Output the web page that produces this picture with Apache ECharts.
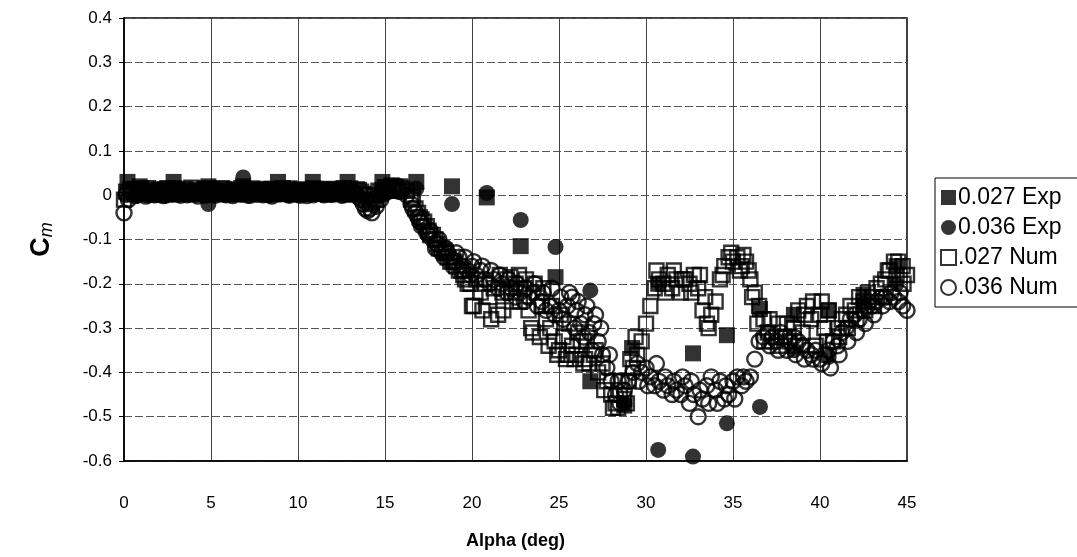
<!DOCTYPE html>
<html>
<head>
<meta charset="utf-8">
<script src="https://cdn.jsdelivr.net/npm/echarts@6/dist/echarts.min.js"></script>
<style>
html,body{margin:0;padding:0;background:#fff;}
#chart{width:1077px;height:557px;}
</style>
</head>
<body>
<div id="chart"></div>
<script>
// ---- data ----
const seriesNames = ['0.027 Exp', '0.036 Exp', '.027 Num', '.036 Num'];
const xTicks = [0, 5, 10, 15, 20, 25, 30, 35, 40, 45];
const yTicks = [-0.6, -0.5, -0.4, -0.3, -0.2, -0.1, 0, 0.1, 0.2, 0.3, 0.4];

// Experimental points [alpha, Cm]
const exp027 = [
  [0.2, 0.03], [0.9, 0.02], [2.85, 0.03], [4.85, 0.02], [6.85, 0.02], [8.85, 0.03],
  [10.85, 0.03], [12.85, 0.03], [14.85, 0.03], [16.8, 0.03], [18.85, 0.02], [20.85, -0.005],
  [22.8, -0.115], [24.8, -0.185], [26.8, -0.42], [28.75, -0.475], [29.2, -0.345],
  [30.7, -0.2], [32.7, -0.357], [34.65, -0.316], [36.55, -0.257], [38.5, -0.27],
  [40.5, -0.26], [42.5, -0.225], [44.4, -0.16]
];
const exp036 = [
  [0.9, 0.01], [2.85, 0.008], [4.85, -0.02], [6.85, 0.04], [8.85, 0.01], [10.85, 0.01],
  [12.85, 0.008], [14.85, 0.0], [16.8, 0.015], [18.85, -0.02], [20.85, 0.005],
  [22.8, -0.056], [24.8, -0.117], [26.8, -0.215], [28.75, -0.47], [30.7, -0.575],
  [32.7, -0.59], [34.65, -0.515], [36.55, -0.478], [38.5, -0.35], [40.5, -0.365],
  [42.5, -0.245], [44.4, -0.2]
];

// Numerical results sampled every 0.25 deg of alpha, from 0 to 45
const numAlphaStep = 0.25;
const num027 = [
  -0.01, 0.005, 0.012, 0.006, 0.015, 0.004, 0.011, 0.002, 0.013, 0.007, 0.016, 0.003, 0.01, 0.005, 0.014, 0.008,
  0.002, 0.012, 0.006, 0.015, 0.004, 0.01, 0.007, 0.013, 0.003, 0.011, 0.006, 0.016, 0.004, 0.009, 0.013, 0.005,
  0.01, 0.002, 0.014, 0.007, 0.011, 0.004, 0.015, 0.006, 0.01, 0.003, 0.012, 0.008, 0.014, 0.005, 0.011, 0.002,
  0.013, 0.007, 0.01, 0.004, 0.015, 0.006, 0.012, 0.003, 0.0, -0.02, -0.01, 0.005, 0.018, 0.01, 0.02, 0.015,
  0.015, 0.01, -0.01, -0.03, -0.05, -0.06, -0.08, -0.09, -0.11, -0.12, -0.13, -0.15, -0.15, -0.17, -0.18, -0.2,
  -0.25, -0.19, -0.22, -0.2, -0.23, -0.21, -0.27, -0.22, -0.19, -0.22, -0.2, -0.24, -0.21, -0.26, -0.31, -0.22,
  -0.25, -0.28, -0.3, -0.33, -0.35, -0.32, -0.36, -0.34, -0.36, -0.33, -0.37, -0.38, -0.36, -0.4, -0.38, -0.42,
  -0.45, -0.47, -0.44, -0.46, -0.42, -0.39, -0.36, -0.33, -0.29, -0.25, -0.21, -0.19, -0.2, -0.18, -0.21, -0.19,
  -0.22, -0.19, -0.2, -0.18, -0.21, -0.26, -0.29, -0.27, -0.24, -0.19, -0.16, -0.14, -0.15, -0.14, -0.16, -0.15,
  -0.19, -0.22, -0.25, -0.28, -0.31, -0.33, -0.32, -0.34, -0.32, -0.33, -0.3, -0.26, -0.31, -0.25, -0.28, -0.34,
  -0.27, -0.3, -0.26, -0.33, -0.3, -0.28, -0.27, -0.25, -0.26, -0.23, -0.24, -0.22, -0.23, -0.21, -0.2, -0.19,
  -0.17, -0.15, -0.15, -0.16, -0.18
];
const num036 = [
  -0.04, -0.01, 0.004, 0.0, 0.008, -0.002, 0.006, 0.001, 0.009, -0.001, 0.005, 0.002, 0.008, 0.0, 0.006, 0.003,
  0.009, -0.002, 0.005, 0.001, 0.007, 0.0, 0.008, 0.003, 0.006, -0.001, 0.009, 0.002, 0.005, 0.0, 0.007, 0.004,
  0.001, 0.008, -0.002, 0.006, 0.003, 0.009, 0.0, 0.005, 0.002, 0.007, -0.001, 0.006, 0.004, 0.008, 0.001, 0.005,
  0.003, 0.009, 0.0, 0.006, 0.002, 0.007, -0.005, -0.02, -0.035, -0.04, -0.025, -0.01, 0.005, 0.01, 0.012, 0.01,
  0.01, 0.0, -0.02, -0.04, -0.06, -0.07, -0.09, -0.1, -0.11, -0.13, -0.12, -0.14, -0.15, -0.14, -0.16, -0.17,
  -0.16, -0.18, -0.17, -0.19, -0.2, -0.19, -0.21, -0.2, -0.22, -0.21, -0.23, -0.22, -0.24, -0.23, -0.22, -0.25,
  -0.24, -0.26, -0.25, -0.27, -0.26, -0.28, -0.25, -0.23, -0.26, -0.29, -0.27, -0.31, -0.29, -0.33, -0.36, -0.39,
  -0.42, -0.45, -0.47, -0.44, -0.42, -0.4, -0.38, -0.4, -0.39, -0.41, -0.43, -0.42, -0.44, -0.43, -0.45, -0.44,
  -0.45, -0.43, -0.47, -0.45, -0.5, -0.46, -0.43, -0.41, -0.44, -0.42, -0.46, -0.45, -0.42, -0.41, -0.43, -0.42,
  -0.41, -0.37, -0.33, -0.32, -0.31, -0.32, -0.33, -0.31, -0.32, -0.33, -0.32, -0.33, -0.34, -0.35, -0.36, -0.35,
  -0.37, -0.36, -0.35, -0.33, -0.34, -0.31, -0.3, -0.28, -0.27, -0.28, -0.26, -0.25, -0.25, -0.24, -0.23, -0.23,
  -0.24, -0.23, -0.24, -0.25, -0.26
];
// Second pass through the flat part (alpha 0.125 .. 15.875, every 0.25 deg)
const flatAlphaStart = 0.125;
const num027b = [
  0.008, 0.014, 0.003, 0.012, 0.007, 0.016, 0.005, 0.01, 0.002, 0.013, 0.008, 0.015, 0.004, 0.011, 0.006, 0.017,
  0.009, 0.003, 0.014, 0.007, 0.012, 0.005, 0.016, 0.002, 0.01, 0.013, 0.004, 0.011, 0.008, 0.015, 0.006, 0.012,
  0.003, 0.014, 0.009, 0.005, 0.016, 0.007, 0.011, 0.002, 0.013, 0.008, 0.004, 0.015, 0.006, 0.012, 0.009, 0.014,
  0.005, 0.011, 0.016, 0.007, 0.003, 0.013, 0.008, -0.01, -0.015, 0.0, 0.01, 0.012, 0.016, 0.022, 0.018, 0.02
];
const num036b = [
  0.002, 0.007, -0.001, 0.005, 0.009, 0.001, 0.006, 0.003, 0.008, 0.0, 0.004, 0.007, 0.002, 0.009, 0.001, 0.005,
  0.003, 0.008, 0.0, 0.006, 0.002, 0.009, 0.004, 0.001, 0.007, 0.003, 0.005, 0.008, 0.0, 0.006, 0.002, 0.009,
  0.004, 0.001, 0.007, 0.003, 0.008, 0.002, 0.005, 0.009, 0.0, 0.004, 0.007, 0.001, 0.006, 0.003, 0.008, 0.002,
  0.005, 0.009, 0.001, 0.004, 0.007, 0.0, -0.01, -0.03, -0.03, -0.015, 0.0, 0.008, 0.012, 0.015, 0.012, 0.008
];
// Scattered numerical points off the main trend [alpha, Cm]
const num027extra = [
  [16.6, -0.005], [16.9, -0.04], [17.1, -0.055], [17.4, -0.07], [17.6, -0.09], [17.9, -0.1], [18.1, -0.12],
  [18.4, -0.125], [18.6, -0.14], [18.9, -0.15], [19.1, -0.16], [19.4, -0.17], [19.6, -0.19], [19.9, -0.2],
  [20.1, -0.25], [20.6, -0.26], [21.1, -0.28], [21.8, -0.26], [22.3, -0.24],
  [21.6, -0.18], [22.2, -0.185], [22.7, -0.18], [23.1, -0.19], [23.6, -0.2], [24.1, -0.21],
  [23.4, -0.3], [23.9, -0.32], [24.4, -0.34], [24.9, -0.36], [25.4, -0.37], [25.9, -0.37], [26.4, -0.38],
  [24.6, -0.25], [25.1, -0.27], [25.6, -0.29], [26.1, -0.31], [26.6, -0.33], [27.1, -0.35],
  [27.6, -0.44], [28.1, -0.48], [28.4, -0.48], [28.9, -0.47], [28.6, -0.42], [29.1, -0.37], [29.4, -0.32],
  [30.6, -0.17], [31.1, -0.22], [31.6, -0.17], [32.1, -0.19], [32.6, -0.22], [33.1, -0.18], [33.4, -0.23], [33.6, -0.3],
  [34.4, -0.18], [34.9, -0.13], [35.4, -0.17], [35.6, -0.135], [35.9, -0.17], [36.1, -0.23], [36.4, -0.29], [36.8, -0.33],
  [37.1, -0.28], [37.6, -0.29], [38.1, -0.29], [38.6, -0.34], [39.1, -0.27], [39.6, -0.24], [40.1, -0.24], [40.4, -0.33],
  [41.1, -0.32], [41.6, -0.3], [42.1, -0.28], [42.6, -0.26], [43.1, -0.25], [43.6, -0.23], [43.9, -0.17], [44.4, -0.18], [44.8, -0.2]
];
const num036extra = [
  [16.6, -0.03], [16.9, -0.05], [17.1, -0.07], [17.4, -0.085], [17.9, -0.12], [18.4, -0.14], [18.9, -0.16],
  [19.4, -0.17], [19.9, -0.18],
  [17.6, -0.08], [18.1, -0.1], [18.6, -0.13], [19.1, -0.13], [19.6, -0.14], [20.1, -0.15], [20.6, -0.16],
  [21.1, -0.17], [21.6, -0.18], [22.1, -0.19], [22.6, -0.2], [23.1, -0.21], [23.6, -0.2], [24.1, -0.22],
  [24.6, -0.21], [25.1, -0.23], [25.6, -0.22], [26.1, -0.24], [26.6, -0.25], [27.1, -0.27],
  [25.9, -0.3], [26.4, -0.32], [26.9, -0.35], [27.4, -0.3], [27.9, -0.36], [28.4, -0.42],
  [29.6, -0.42], [30.1, -0.43], [30.6, -0.38], [31.1, -0.41], [31.6, -0.42], [32.1, -0.41], [32.6, -0.42],
  [33.1, -0.44], [33.6, -0.47], [34.1, -0.47], [34.6, -0.43], [35.1, -0.46], [35.6, -0.41],
  [37.1, -0.34], [37.6, -0.35], [38.1, -0.35], [38.6, -0.36], [39.1, -0.37], [39.6, -0.37], [40.1, -0.38],
  [40.6, -0.39], [41.1, -0.36], [41.6, -0.33], [42.1, -0.31], [42.6, -0.29], [43.1, -0.27], [43.6, -0.25],
  [44.1, -0.22], [44.6, -0.22]
];

// ---- build chart ----
const toPairs = (arr, start) => arr.map((v, i) => [start + i * numAlphaStep, v]);
const FONT = '"Liberation Sans", Arial, sans-serif';

const chart = echarts.init(document.getElementById('chart'), null, {renderer: 'canvas'});

const hollow = {color: 'rgba(255,255,255,0)', borderColor: '#000', borderWidth: 2.4};
const filled = {color: '#000', borderColor: '#000', borderWidth: 0};

chart.setOption({
  animation: false,
  backgroundColor: '#fff',
  grid: {left: 124, top: 18, width: 783, height: 443, show: true, borderColor: '#000', borderWidth: 1.5, backgroundColor: 'transparent'},
  xAxis: {
    type: 'value', min: xTicks[0], max: xTicks[xTicks.length - 1], interval: 5,
    name: 'Alpha (deg)', nameLocation: 'middle', nameGap: 71,
    nameTextStyle: {fontFamily: FONT, fontSize: 18, fontWeight: 'bold', color: '#000'},
    axisLine: {show: true, onZero: false, lineStyle: {color: '#000', width: 1.5}},
    axisTick: {show: false},
    axisLabel: {margin: 34, fontFamily: FONT, fontSize: 17, color: '#000'},
    splitLine: {show: true, lineStyle: {color: '#444', width: 1}}
  },
  yAxis: {
    type: 'value', min: yTicks[0], max: yTicks[yTicks.length - 1], interval: 0.1,
    name: '{c|C}{m|m}', nameLocation: 'middle', nameGap: 68, nameRotate: 90,
    nameTextStyle: {
      rich: {
        c: {fontFamily: FONT, fontSize: 27, fontWeight: 'bold', color: '#000'},
        m: {fontFamily: FONT, fontSize: 18, fontStyle: 'italic', color: '#000', padding: [10, 0, 0, 0]}
      }
    },
    axisLine: {show: true, onZero: false, lineStyle: {color: '#000', width: 1.5}},
    axisTick: {show: true, inside: false, length: 5, lineStyle: {color: '#000'}},
    axisLabel: {
      margin: 12, fontFamily: FONT, fontSize: 17, color: '#000',
      formatter: v => String(Math.round(v * 10) / 10)
    },
    splitLine: {show: true, lineStyle: {color: '#555', width: 1, type: [8, 3]}}
  },
  legend: {
    orient: 'vertical', left: 935, top: 178,
    itemWidth: 15, itemHeight: 15, itemGap: 7,
    borderColor: '#000', borderWidth: 1, padding: [8, 60, 8, 5],
    textStyle: {fontFamily: FONT, fontSize: 23, color: '#000', padding: [0, 0, 0, -3]},
    data: seriesNames.map(n => ({name: n}))
  },
  series: [
    {name: seriesNames[0], type: 'scatter', symbol: 'rect', symbolSize: 16, itemStyle: filled, data: exp027, z: 2},
    {name: seriesNames[1], type: 'scatter', symbol: 'circle', symbolSize: 16, itemStyle: filled, data: exp036, z: 2},
    {name: seriesNames[2], type: 'scatter', symbol: 'rect', symbolSize: 14, itemStyle: hollow,
      data: toPairs(num027, 0).concat(toPairs(num027b, flatAlphaStart), num027extra), z: 3},
    {name: seriesNames[3], type: 'scatter', symbol: 'circle', symbolSize: 15, itemStyle: hollow,
      data: toPairs(num036, 0).concat(toPairs(num036b, flatAlphaStart), num036extra), z: 3}
  ]
});
</script>
</body>
</html>
